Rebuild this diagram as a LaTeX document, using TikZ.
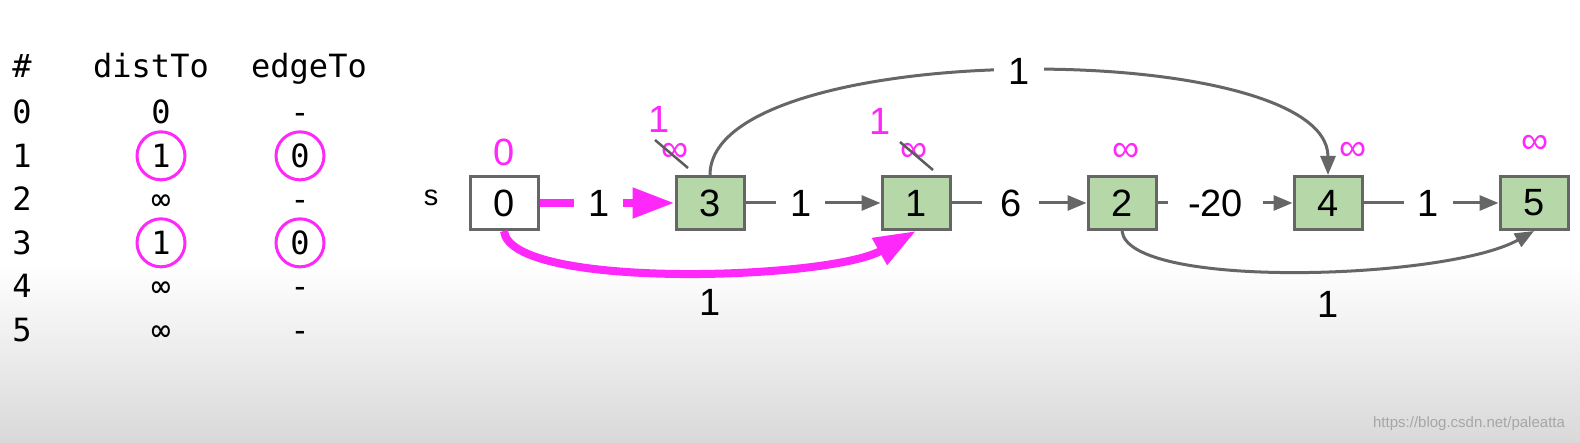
\documentclass[tikz,border=0pt]{standalone}
\usepackage{fontspec}
\setmainfont{Liberation Sans}
\setmonofont{DejaVu Sans Mono}
\usepackage{xcolor}
\usetikzlibrary{arrows.meta, positioning, calc, backgrounds}
\definecolor{hot}{RGB}{255,40,250}
\definecolor{leaf}{RGB}{182,215,168}
\definecolor{wire}{RGB}{102,102,102}

\begin{document}
\begin{tikzpicture}[
  x=0.5pt, y=0.5pt,
  font=\fontsize{19}{22}\selectfont,
  vtx/.style={draw=wire, line width=1.5pt, fill=#1, minimum width=34pt,
              minimum height=26.5pt, inner sep=0pt},
  vtx/.default=leaf,
  edge/.style={-{Triangle[length=9.5pt,width=7.5pt]}, line width=1.5pt, color=wire},
  hotedge/.style={-{Triangle[length=21pt,width=14.5pt]}, line width=4pt, color=hot},
  wt/.style={fill=white, inner xsep=7pt, inner ysep=2pt, text=black},
  dist/.style={text=hot, inner sep=0pt},
  xout/.style={line width=1.25pt, color=wire!90!black},
  cell/.style={font=\ttfamily\fontsize{16}{18}\selectfont, anchor=base},
  ring/.style={circle, draw=hot, line width=1.5pt, minimum size=24pt, inner sep=0pt},
]
\useasboundingbox (0,0) rectangle (1580,443);

%% ---------- Background ------------------------------------------
\begin{scope}[on background layer]
  \fill[white] (0,0) rectangle (1580,443);
  \shade[top color=white, bottom color=black!15] (0,0) rectangle (1580,180);
\end{scope}

%% ---------- Table: distTo / edgeTo -------------------------------
\node[cell] (hnum)  at (22,365)  {\#};
\node[cell] (hdist) at (151,365) {distTo};
\node[cell] (hedge) at (309,365) {edgeTo};

\foreach \r/\d/\e/\y/\k in {0/0/-/319/, 1/1/0/275.5/ring, 2/∞/-/232/,
                           3/1/0/188.5/ring, 4/∞/-/145/, 5/∞/-/101.5/}{
  \node[cell]     (row\r) at (22,\y)  {\r};
  \node[cell,\k]  (d\r)   at (161,\y) {\d};
  \node[cell,\k]  (e\r)   at (300,\y) {\e};
}

%% ---------- Graph: vertices --------------------------------------
\node (src) at (431,245) {\fontsize{14.5}{16}\selectfont s};
\node[vtx=white]              (n0) at (504,240) {0};
\node[vtx, right=67.5pt of n0] (n3) {3};
\node[vtx, right=67.5pt of n3] (n1) {1};
\node[vtx, right=67.5pt of n1] (n2) {2};
\node[vtx, right=67.5pt of n2] (n4) {4};
\node[vtx, right=67.5pt of n4] (n5) {5};

%% ---------- distTo marks above the vertices ----------------------
\node[dist] (t0)  at (504,291)  {0};
\node[dist] (u3)  at (659,324)  {1};
\node[dist] (i3)  at (675,291)  {∞};
\node[dist] (u1)  at (880,322)  {1};
\node[dist] (i1)  at (914,291)  {∞};
\node[dist] (i2)  at (1126,291) {∞};
\node[dist] (i4)  at (1353,292) {∞};
\node[dist] (i5)  at (1535,299) {∞};

\draw[xout] ($(i3)+(-20,12)$) -- ($(i3)+(13,-16)$);
\draw[xout] ($(i1)+(-14,10)$) -- ($(i1)+(19,-18)$);

%% ---- Edges ------------------------------------------------------
\draw[hotedge] (n0) -- node[wt, pos=.44]{1} (n3);
\draw[edge]    (n3) -- node[wt, pos=.41]{1} (n1);
\draw[edge]    (n1) -- node[wt, pos=.44, inner xsep=9pt]{6} (n2);
\draw[edge]    (n2) -- node[wt, pos=.43, inner xsep=10pt]{-20} (n4);
\draw[edge]    (n4) -- node[wt, pos=.48]{1} (n5);

%% long edges over and under the row
\draw[edge] (n3.north) .. controls +(0,138) and +(0,138) ..
      node[wt]{1} (n4.north);
\draw[hotedge] (n0.south) .. controls +(6,-59) and +(-87,-49) .. (n1.south);
\node (w01) at ($(n0.south)!.5!(n1.south)+(0,-71)$) {1};
\draw[edge] (n2.south) .. controls +(6,-59) and +(-87,-49) .. (n5.south);
\node (w25) at ($(n2.south)!.5!(n5.south)+(0,-73)$) {1};

%% watermark
\node[anchor=east, font=\fontsize{7.5}{8}\selectfont, text=black!35] (mark)
      at (1572,19) {https://blog.csdn.net/paleatta};
\end{tikzpicture}
\end{document}
